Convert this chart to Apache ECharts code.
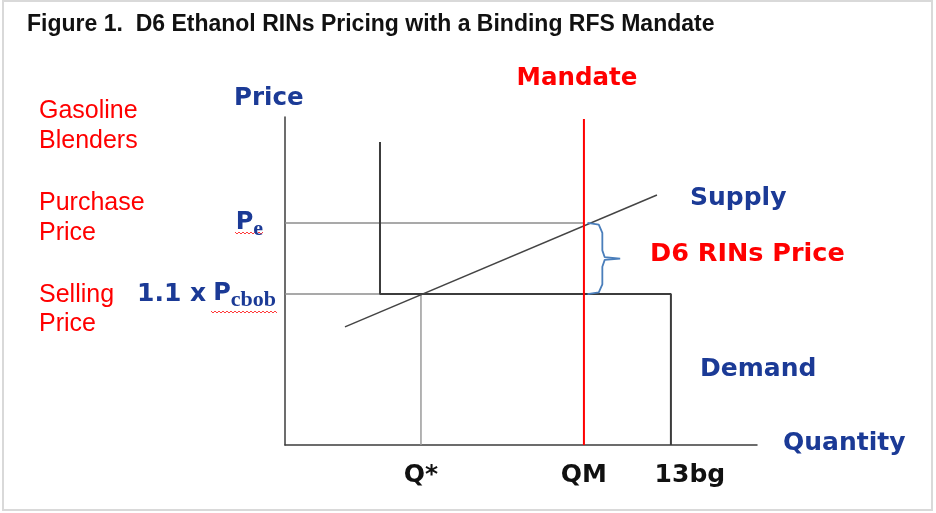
<!DOCTYPE html>
<html>
<head>
<meta charset="utf-8">
<script src="https://cdn.jsdelivr.net/npm/echarts@6/dist/echarts.min.js"></script>
<style>
  html, body { margin: 0; padding: 0; background: #fff; }
  #chart { width: 936px; height: 513px; }
</style>
</head>
<body>
<div id="chart"></div>
<script>
// quantity marks on the x axis (13bg = 13)
const qLabels = ['Q*', 'QM', '13bg'];
const qValues = [4.58, 10.07, 13];
// price levels on the y axis
const pLabels = ['Pe', '1.1 x Pcbob'];
const pValues = [6.77, 4.6];

// demand: vertical, then flat at 1.1 x Pcbob, then down at 13bg
const demandQ = [3.2, 3.2, 13, 13];
const demandP = [9.24, 4.6, 4.6, 0];
// supply line
const supplyQ = [2.02, 12.53];
const supplyP = [3.6, 7.62];
// mandate line
const mandateQ = 10.07;
const mandateTop = 9.94;

const blue = '#1b3a96';
const red = '#ff0000';
const verdana = '"DejaVu Sans", Verdana, sans-serif';
const arial = '"Liberation Sans", Arial, sans-serif';
const serif = '"Liberation Serif", serif';

const zip = (xs, ys) => xs.map((x, i) => [x, ys[i]]);
const pe = pValues[0];
const pcbob = pValues[1];
const qStar = qValues[0];
const mid = (pe + pcbob) / 2;

// curly brace between Pe and 1.1 x Pcbob, right of the mandate
const braceDx = [0.12, 0.5, 0.62, 0.62, 0.7, 1.22, 0.7, 0.62, 0.62, 0.5, 0.12];
const braceP = [pe, pe - 0.05, pe - 0.3, mid + 0.25, mid + 0.04, mid, mid - 0.04, mid - 0.25, pcbob + 0.3, pcbob + 0.05, pcbob];

function lineSeries(data, color, width) {
    return {
        type: 'line',
        data: data,
        symbol: 'none',
        silent: true,
        lineStyle: { color: color, width: width },
    };
}

function txt(text, x, y, color, font, size, bold, align) {
    return {
        type: 'text',
        x: x,
        y: y,
        silent: true,
        style: {
            text: text,
            fill: color,
            font: (bold ? 'bold ' : '') + size + 'px ' + font,
            textAlign: align || 'left',
            textVerticalAlign: 'middle',
        },
    };
}

// red spell-check squiggle under a word
function squiggle(x0, x1, y) {
    const pts = [];
    for (let x = x0, k = 0; x <= x1; x += 2, k++) {
        pts.push([x, y + (k % 2 ? 2 : 0)]);
    }
    return {
        type: 'polyline',
        silent: true,
        shape: { points: pts },
        style: { stroke: '#ff3b3b', lineWidth: 1, fill: null },
    };
}

const chart = echarts.init(document.getElementById('chart'));

const option = {
    animation: false,
    backgroundColor: '#fff',
    grid: { left: 285, top: 117, width: 472, height: 328, outerBoundsMode: 'none' },
    xAxis: {
        type: 'value',
        min: 0,
        max: 15.9,
        axisLine: { show: true, lineStyle: { color: '#3c3c3c', width: 1.5 } },
        axisTick: { show: false },
        splitLine: { show: false },
        axisLabel: {
            customValues: qValues,
            margin: 18,
            formatter: (v) => {
                const i = qValues.indexOf(v);
                return '{q' + i + '|' + qLabels[i] + '}';
            },
            rich: {
                q0: { color: '#111', fontFamily: verdana, fontWeight: 'bold', fontSize: 25 },
                q1: { color: '#111', fontFamily: verdana, fontWeight: 'bold', fontSize: 25 },
                q2: { color: '#111', fontFamily: verdana, fontWeight: 'bold', fontSize: 25, padding: [0, 0, 0, 38] },
            },
        },
    },
    yAxis: {
        type: 'value',
        min: 0,
        max: 10,
        axisLine: { show: true, lineStyle: { color: '#3c3c3c', width: 1.5 } },
        axisTick: { show: false },
        splitLine: { show: false },
        axisLabel: {
            customValues: pValues,
            margin: 9,
            formatter: (v) => (v === pe ? '{p|P}{subE|e}' : '{num|1.1 x}{p|P}{sub|cbob}'),
            rich: {
                num: { color: blue, fontFamily: verdana, fontWeight: 'bold', fontSize: 25, padding: [0, 7, 0, 0] },
                p: { color: blue, fontFamily: verdana, fontWeight: 'bold', fontSize: 24 },
                sub: {
                    color: blue, fontFamily: serif, fontWeight: 'bold',
                    fontSize: 22, padding: [12, 0, 0, 0],
                },
                subE: {
                    color: blue, fontFamily: serif, fontWeight: 'bold',
                    fontSize: 22, padding: [12, 13, 0, 0],
                },
            },
        },
    },
    series: [
        lineSeries([[0, pe], [mandateQ, pe]], '#8c8c8c', 1.5),
        lineSeries([[0, pcbob], [demandQ[0], pcbob]], '#8c8c8c', 1.5),
        lineSeries([[qStar, pcbob], [qStar, 0]], '#9a9a9a', 1.5),
        lineSeries(zip(demandQ, demandP), '#3c3c3c', 2),
        lineSeries(zip(supplyQ, supplyP), '#444', 1.5),
        lineSeries([[mandateQ, mandateTop], [mandateQ, 0]], red, 2),
        lineSeries(zip(braceDx.map((d) => mandateQ + d), braceP), '#4a7ebb', 1.8),
    ],
    graphic: [
        {
            type: 'rect',
            silent: true,
            shape: { x: 3, y: 1, width: 929, height: 509 },
            style: { fill: null, stroke: '#d9d9d9', lineWidth: 2 },
        },
        txt('Figure 1.  D6 Ethanol RINs Pricing with a Binding RFS Mandate', 27, 25, '#111', arial, 23, true),
        txt('Mandate', 577, 79, red, verdana, 24.5, true, 'center'),
        txt('Price', 234, 99, blue, verdana, 24.5, true),
        txt('Gasoline', 39, 111, red, arial, 25, false),
        txt('Blenders', 39, 141, red, arial, 25, false),
        txt('Purchase', 39, 203, red, arial, 25, false),
        txt('Price', 39, 233, red, arial, 25, false),
        txt('Selling', 39, 295, red, arial, 25, false),
        txt('Price', 39, 324, red, arial, 25, false),
        txt('Supply', 690, 198, blue, verdana, 25, true),
        txt('D6 RINs Price', 650, 254, red, verdana, 25.5, true),
        txt('Demand', 700, 369, blue, verdana, 25, true),
        txt('Quantity', 783, 443, blue, verdana, 25, true),
        squiggle(235, 263, 232),
        squiggle(211, 277, 311),
    ],
};

chart.setOption(option);
</script>
</body>
</html>
